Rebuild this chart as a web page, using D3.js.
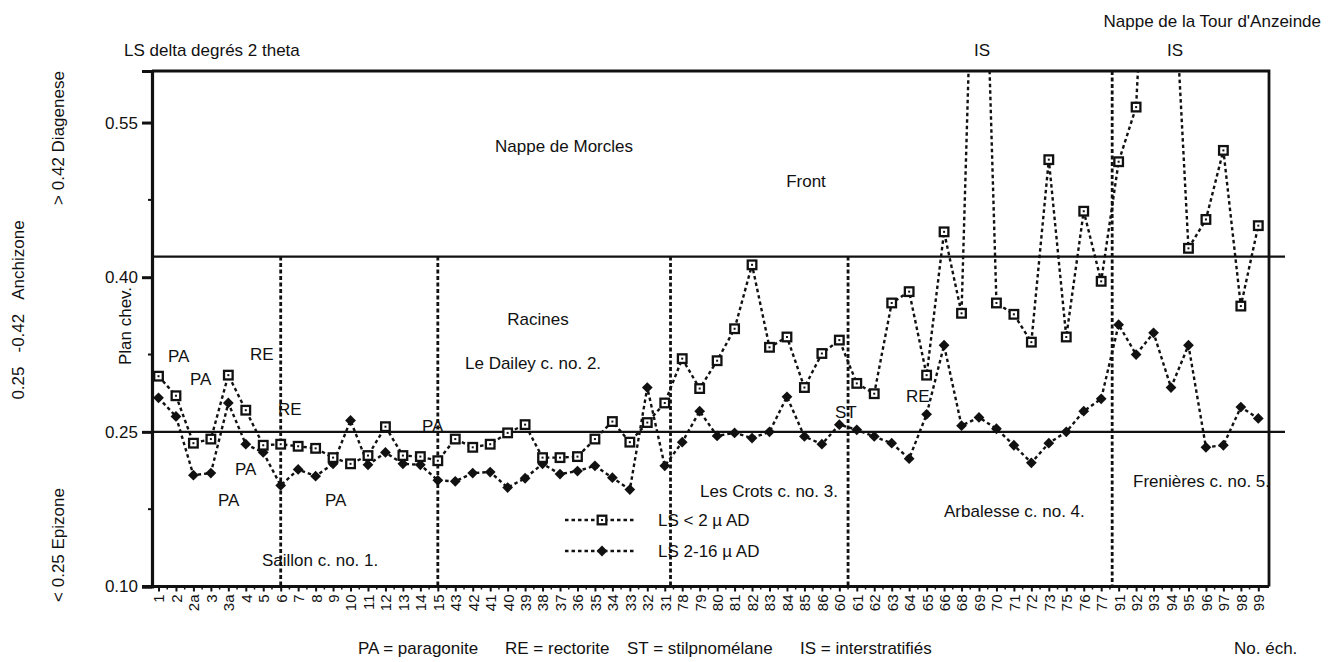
<!DOCTYPE html>
<html>
<head>
<meta charset="utf-8">
<title>LS delta degrés 2 theta</title>
<script src="https://cdn.jsdelivr.net/npm/d3@7"></script>
<style>
  body { margin: 0; background: #fff; }
  svg text { font-family: "Liberation Sans", Arial, Helvetica, sans-serif; fill: #111; }
</style>
</head>
<body>
<script>
// samples along the profile (x axis order)
var categories = ["1","2","2a","3","3a","4","5","6","7","8","9","10","11","12","13","14","15",
  "43","42","41","40","39","38","37","36","35","34","33","32","31",
  "78","79","80","81","82","83","84","85","86",
  "60","61","62","63","64","65","66","68","69","70","71","72","73","75","76","77",
  "91","92","93","94","95","96","97","98","99"];

// LS < 2 micron AD (69, 93, 94 are interstratified, off the scale)
var lsFine = [0.304,0.285,0.239,0.243,0.305,0.271,0.237,0.238,0.236,0.234,0.225,0.219,0.227,0.255,0.227,0.226,0.222,
  0.243,0.235,0.238,0.249,0.257,0.225,0.225,0.226,0.243,0.260,0.240,0.259,0.278,
  0.321,0.292,0.319,0.350,0.412,0.332,0.342,0.293,0.326,
  0.339,0.297,0.287,0.375,0.386,0.305,0.444,0.365,0.95,0.375,0.364,0.337,0.514,0.342,0.464,0.396,
  0.512,0.565,0.90,0.75,0.428,0.456,0.523,0.372,0.450];

// LS 2-16 micron AD
var lsCoarse = [0.283,0.265,0.208,0.210,0.278,0.238,0.230,0.198,0.2135,0.207,0.219,0.261,0.218,0.230,0.219,0.218,0.203,
  0.202,0.210,0.211,0.196,0.205,0.219,0.209,0.212,0.217,0.2055,0.194,0.293,0.217,
  0.240,0.270,0.246,0.249,0.244,0.250,0.284,0.2455,0.238,
  0.257,0.252,0.2455,0.239,0.224,0.267,0.334,0.256,0.264,0.253,0.237,0.220,0.239,0.250,0.270,0.282,
  0.354,0.325,0.346,0.293,0.334,0.235,0.237,0.274,0.263];

var yTicks = [0.10, 0.25, 0.40, 0.55];
var yMinorTicks = [0.175, 0.325, 0.475];
var zoneLimits = [0.25, 0.42];
// unit boundaries: sample, fraction of the way to the next sample, top value
var boundaryAt = ["6", "15", "31", "60", "77"];
var boundaryFrac = [0, 0, 0.33, 0.5, 0.63];
var boundaryTop = [0.42, 0.42, 0.42, 0.42, 0.60];

var width = 1328, height = 662;
var plot = {left: 152, right: 1269, top: 71, bottom: 586.5};

var svg = d3.select("body").append("svg")
    .attr("width", width)
    .attr("height", height);

svg.append("rect").attr("width", width).attr("height", height).attr("fill", "#fff");

var x = d3.scalePoint()
    .domain(categories)
    .range([plot.left + 6.5, plot.right - 10.7]);

var y = d3.scaleLinear()
    .domain([0.10, 0.60])
    .range([plot.bottom, plot.top]);

var step = x.step();

// clip for values above the scale
svg.append("clipPath").attr("id", "plotClip")
  .append("rect")
    .attr("x", plot.left)
    .attr("y", plot.top)
    .attr("width", plot.right - plot.left)
    .attr("height", plot.bottom - plot.top);

// zone limits
svg.selectAll(".zone")
    .data(zoneLimits)
    .enter()
    .append("line")
    .attr("x1", plot.left)
    .attr("x2", plot.right + 16)
    .attr("y1", function(d) { return y(d); })
    .attr("y2", function(d) { return y(d); })
    .attr("stroke", "#111")
    .attr("stroke-width", 2.2);

// unit boundaries (dotted)
svg.selectAll(".bound")
    .data(boundaryAt)
    .enter()
    .append("line")
    .attr("x1", function(d, i) { return x(d) + boundaryFrac[i] * step; })
    .attr("x2", function(d, i) { return x(d) + boundaryFrac[i] * step; })
    .attr("y1", function(d, i) { return y(boundaryTop[i]); })
    .attr("y2", plot.bottom)
    .attr("stroke", "#111")
    .attr("stroke-width", 2.8)
    .attr("stroke-dasharray", "4,2.5");

// frame top and right
svg.append("path")
    .attr("d", "M" + plot.left + "," + plot.top + "H" + plot.right + "V" + plot.bottom)
    .attr("fill", "none")
    .attr("stroke", "#111")
    .attr("stroke-width", 2.8);

// axes
var yAxis = d3.axisLeft(y).tickValues(yTicks).tickSize(10).tickPadding(4)
    .tickFormat(d3.format(".2f"));
var gy = svg.append("g")
    .attr("transform", "translate(" + plot.left + ",0)")
    .call(yAxis);
gy.select(".domain").attr("stroke-width", 3.2).attr("stroke", "#111");
gy.selectAll(".tick line").attr("stroke-width", 3).attr("stroke", "#111");
gy.selectAll(".tick text").style("font-size", "17px").attr("fill", "#111");

svg.selectAll(".yminor")
    .data(yMinorTicks)
    .enter()
    .append("line")
    .attr("x1", plot.left - 4)
    .attr("x2", plot.left)
    .attr("y1", function(d) { return y(d); })
    .attr("y2", function(d) { return y(d); })
    .attr("stroke", "#111")
    .attr("stroke-width", 2);

var xAxis = d3.axisBottom(x).tickSize(5).tickSizeOuter(0);
var gx = svg.append("g")
    .attr("transform", "translate(0," + plot.bottom + ")")
    .call(xAxis);
gx.select(".domain").attr("stroke-width", 3).attr("stroke", "#111")
    .attr("d", "M" + (plot.left - 10) + ",0H" + plot.right);
gx.selectAll(".tick line").attr("stroke-width", 2).attr("stroke", "#111");
gx.selectAll(".tick text")
    .style("font-size", "15px")
    .style("text-anchor", "end")
    .attr("fill", "#111")
    .attr("x", -8)
    .attr("y", 0)
    .attr("dy", "0.36em")
    .attr("transform", "rotate(-90)");

// half-step minor ticks
gx.selectAll(".xminor")
    .data(categories.slice(0, -1))
    .enter()
    .append("line")
    .attr("x1", function(d) { return x(d) + step / 2; })
    .attr("x2", function(d) { return x(d) + step / 2; })
    .attr("y1", 0)
    .attr("y2", 3)
    .attr("stroke", "#111")
    .attr("stroke-width", 1.5);

// series
var line = d3.line()
    .x(function(d, i) { return x(categories[i]); })
    .y(function(d) { return y(d); });

var series = svg.append("g").attr("clip-path", "url(#plotClip)");

[lsFine, lsCoarse].forEach(function(values) {
    series.append("path")
        .datum(values)
        .attr("d", line)
        .attr("fill", "none")
        .attr("stroke", "#111")
        .attr("stroke-width", 2.4)
        .attr("stroke-dasharray", "3.5,3");
});

var diamond = d3.symbol().type(d3.symbolSquare).size(58);

function drawSquare(g) {
    g.append("rect")
        .attr("x", -4.3).attr("y", -4.3)
        .attr("width", 8.6).attr("height", 8.6)
        .attr("fill", "#fff")
        .attr("stroke", "#111")
        .attr("stroke-width", 2.3);
    g.append("rect")
        .attr("x", -1).attr("y", -1)
        .attr("width", 2).attr("height", 2)
        .attr("fill", "#111");
}

series.selectAll(".coarse")
    .data(lsCoarse)
    .enter()
    .append("path")
    .attr("d", diamond)
    .attr("fill", "#111")
    .attr("transform", function(d, i) {
        return "translate(" + x(categories[i]) + "," + y(d) + ") rotate(45)";
    });

series.selectAll(".fine")
    .data(lsFine)
    .enter()
    .append("g")
    .attr("transform", function(d, i) {
        return "translate(" + x(categories[i]) + "," + y(d) + ")";
    })
    .each(function() { drawSquare(d3.select(this)); });

// legend
var legend = svg.append("g");
var legendRows = [{label: "LS < 2 \u00b5 AD", kind: "fine"}, {label: "LS 2-16 \u00b5 AD", kind: "coarse"}];
legendRows.forEach(function(r, i) {
    var ly = 520 + i * 31;
    legend.append("line")
        .attr("x1", 565).attr("x2", 634)
        .attr("y1", ly).attr("y2", ly)
        .attr("stroke", "#111")
        .attr("stroke-width", 2.4)
        .attr("stroke-dasharray", "3.5,3");
    var m = legend.append("g").attr("transform", "translate(602," + ly + ")");
    if (r.kind == "fine") {
        drawSquare(m);
    } else {
        m.append("path").attr("d", diamond).attr("fill", "#111").attr("transform", "rotate(45)");
    }
    legend.append("text")
        .attr("x", 658)
        .attr("y", ly + 6)
        .style("font-size", "17px")
        .text(r.label);
});

// annotations (pixel layout)
var notes = [
    ["Nappe de Morcles", 564, 152, "middle"],
    ["Front", 806, 187, "middle"],
    ["Racines", 538, 325, "middle"],
    ["Le Dailey c. no. 2.", 465, 369, "start"],
    ["Les Crots c. no. 3.", 700, 497, "start"],
    ["Arbalesse c. no. 4.", 944, 517, "start"],
    ["Frenières c. no. 5.", 1133, 487, "start"],
    ["Saillon c. no. 1.", 262, 566, "start"],
    ["PA", 168, 362, "start"],
    ["PA", 190, 385, "start"],
    ["RE", 250, 360, "start"],
    ["RE", 278, 415, "start"],
    ["PA", 235, 475, "start"],
    ["PA", 218, 506, "start"],
    ["PA", 325, 506, "start"],
    ["PA", 422, 432, "start"],
    ["ST", 835, 418, "start"],
    ["RE", 906, 402, "start"],
    ["IS", 982, 56, "middle"],
    ["IS", 1175, 56, "middle"],
    ["Nappe de la Tour d'Anzeinde", 1321, 27, "end"],
    ["LS delta degrés 2 theta", 124, 56, "start"],
    ["PA = paragonite", 358, 654, "start"],
    ["RE = rectorite", 505, 654, "start"],
    ["ST = stilpnomélane", 627, 654, "start"],
    ["IS = interstratifiés", 800, 654, "start"],
    ["No. éch.", 1234, 654, "start"]
];

svg.append("g").selectAll("text")
    .data(notes)
    .enter()
    .append("text")
    .attr("x", function(d) { return d[1]; })
    .attr("y", function(d) { return d[2]; })
    .style("text-anchor", function(d) { return d[3]; })
    .style("font-size", "17px")
    .text(function(d) { return d[0]; });

// rotated side labels
var sideNotes = [
    [["> 0.42 Diagenese"], 64, 138],
    [["0.25", "-0.42", "Anchizone"], 24, 310],
    [["< 0.25 Epizone"], 64, 545],
    [["Plan chev."], 131, 326]
];
sideNotes.forEach(function(s) {
    var t = svg.append("text")
        .attr("transform", "translate(" + s[1] + "," + s[2] + ") rotate(-90)")
        .style("text-anchor", "middle")
        .style("font-size", "17px");
    s[0].forEach(function(part, j) {
        t.append("tspan").attr("dx", j == 0 ? 0 : 14).text(part);
    });
});
</script>
</body>
</html>
